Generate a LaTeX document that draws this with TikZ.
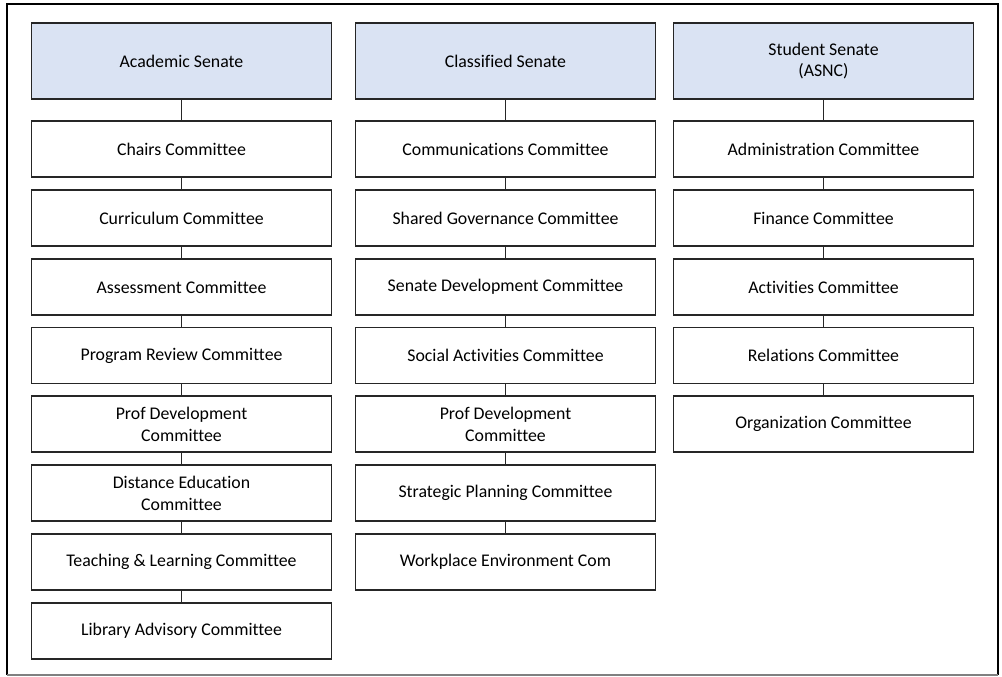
\documentclass[tikz,border=0pt]{standalone}
\usepackage{fontspec}
\setmainfont[Ligatures=NoCommon]{Carlito}
\definecolor{headfill}{HTML}{DAE3F3}
\definecolor{boxline}{HTML}{262626}
\begin{document}
\begin{tikzpicture}[x=1pt,y=-1pt,
  base/.style={draw=boxline,line width=1.2pt,minimum width=300pt,align=center,
    inner sep=0pt,font=\fontsize{17.8}{21.8}\selectfont},
  senate/.style={base,fill=headfill,minimum height=76pt},
  committee/.style={base,fill=white,minimum height=56pt},
  link/.style={draw=boxline,line width=0.8pt}]
\useasboundingbox (0,0) rectangle (1002,677);
% outer frame
\draw[black,line width=1.4pt] (7,675) -- (7,4) -- (998,4) -- (998,675);
\draw[gray,line width=1.4pt] (7,675) -- (998,675);

% column heads
\node[senate] (as) at (181.5,61) {Academic Senate};
\node[senate] (cs) at (505.5,61) {Classified Senate};
\node[senate] (ss) at (823.5,61) {Student Senate\\(ASNC)};

% Academic Senate committees
\node[committee] (a1) at (181.5,149) {Chairs Committee};
\node[committee] (a2) at (181.5,218) {Curriculum Committee};
\node[committee] (a3) at (181.5,287) {Assessment Committee};
\node[committee] (a4) at (181.5,355.5) {Program Review Committee};
\node[committee] (a5) at (181.5,424) {Prof Development\\Committee};
\node[committee] (a6) at (181.5,493) {Distance Education\\Committee};
\node[committee] (a7) at (181.5,562) {Teaching \& Learning Committee};
\node[committee] (a8) at (181.5,631) {Library Advisory Committee};

% Classified Senate committees
\node[committee] (c1) at (505.5,149) {Communications Committee};
\node[committee] (c2) at (505.5,218) {Shared Governance Committee};
\node[committee] (c3) at (505.5,287) {Senate Development Committee};
\node[committee] (c4) at (505.5,355.5) {Social Activities Committee};
\node[committee] (c5) at (505.5,424) {Prof Development\\Committee};
\node[committee] (c6) at (505.5,493) {Strategic Planning Committee};
\node[committee] (c7) at (505.5,562) {Workplace Environment Com};

% Student Senate committees
\node[committee] (s1) at (823.5,149) {Administration Committee};
\node[committee] (s2) at (823.5,218) {Finance Committee};
\node[committee] (s3) at (823.5,287) {Activities Committee};
\node[committee] (s4) at (823.5,355.5) {Relations Committee};
\node[committee] (s5) at (823.5,424) {Organization Committee};

% vertical links
\foreach \u/\v in {as/a1,a1/a2,a2/a3,a3/a4,a4/a5,a5/a6,a6/a7,a7/a8,
                   cs/c1,c1/c2,c2/c3,c3/c4,c4/c5,c5/c6,c6/c7,
                   ss/s1,s1/s2,s2/s3,s3/s4,s4/s5}
  \draw[link] (\u.south) -- (\v.north);
\end{tikzpicture}
\end{document}
